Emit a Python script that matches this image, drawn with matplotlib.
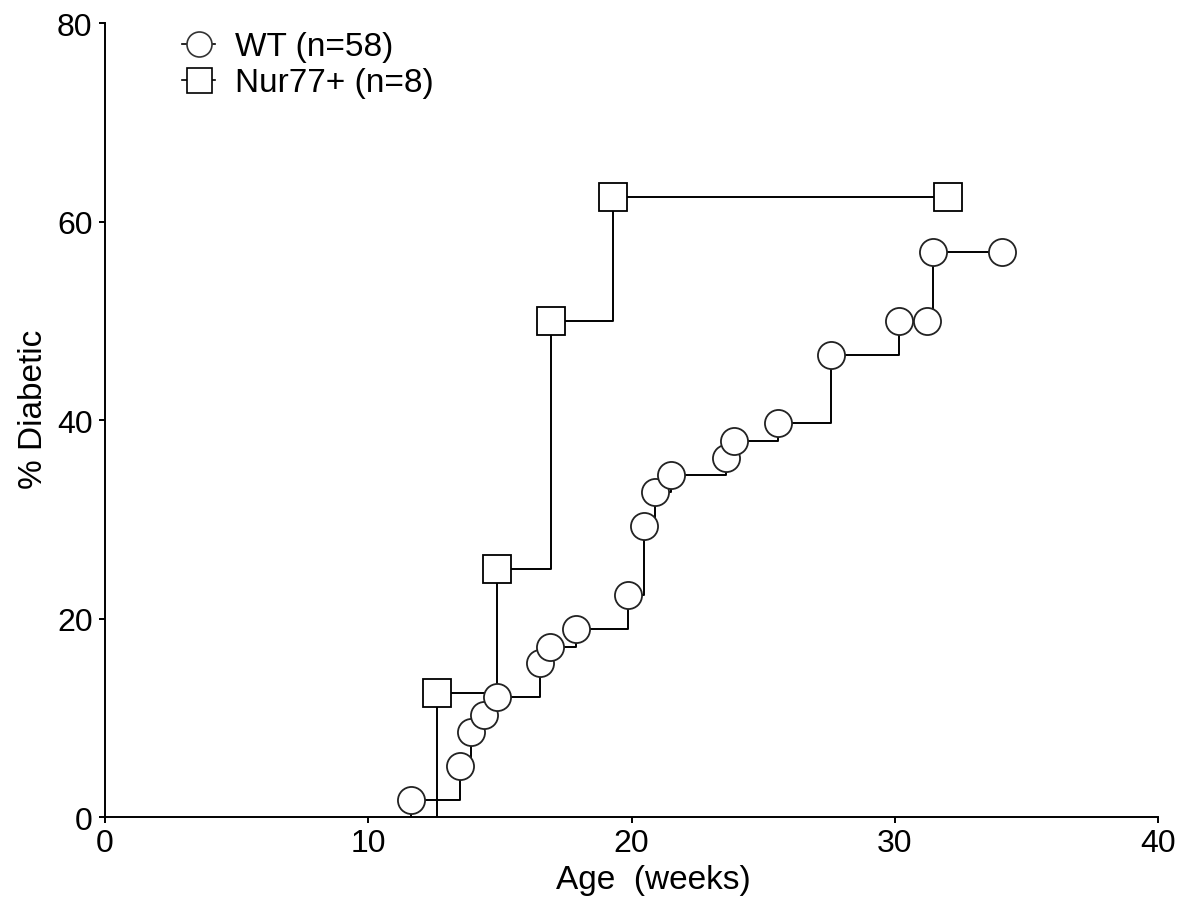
import matplotlib
matplotlib.use("Agg")
import matplotlib.pyplot as plt

# Data
wt_weeks = [11.62, 13.49, 13.90, 14.40, 14.89, 16.52, 16.90, 17.89, 19.87, 20.47,
            20.89, 21.50, 23.59, 23.89, 25.57, 27.58, 30.16, 31.23, 31.45, 34.07]
wt_pct = [1.7, 5.2, 8.6, 10.3, 12.1, 15.5, 17.2, 19.0, 22.4, 29.3,
          32.8, 34.5, 36.2, 37.9, 39.7, 46.6, 50.0, 50.0, 57.0, 57.0]
nur_weeks = [12.6, 14.89, 16.94, 19.30, 32.02]
nur_pct = [12.5, 25.0, 50.0, 62.5, 62.5]

wt_label = "WT (n=58)"
nur_label = "Nur77+ (n=8)"
x_ticks = [0, 10, 20, 30, 40]
y_ticks = [0, 20, 40, 60, 80]

plt.rcParams['font.family'] = ['Liberation Sans', 'DejaVu Sans']

fig = plt.figure(figsize=(11.92, 9.03), dpi=100)
ax = fig.add_axes([0.0881, 0.0938, 0.9715 - 0.0881, 0.9731 - 0.0938])

lw = 1.4
# step lines (start from 0 at first event)
ax.step([wt_weeks[0]] + wt_weeks, [0] + wt_pct, where='post', color='black', lw=lw, zorder=2)
ax.step([nur_weeks[0]] + nur_weeks, [0] + nur_pct, where='post', color='black', lw=lw, zorder=2)

ax.plot(wt_weeks, wt_pct, linestyle='none', marker='o', markersize=19.5,
        markerfacecolor='white', markeredgecolor='#222222', markeredgewidth=1.3, zorder=3)
ax.plot(nur_weeks, nur_pct, linestyle='none', marker='s', markersize=19.5,
        markerfacecolor='white', markeredgecolor='black', markeredgewidth=1.3, zorder=3)

# legend handles
h1, = ax.plot([], [], color='black', lw=1.2, marker='o', markersize=18,
              markerfacecolor='white', markeredgecolor='#333333', markeredgewidth=1.2)
h2, = ax.plot([], [], color='black', lw=1.2, marker='s', markersize=18,
              markerfacecolor='white', markeredgecolor='black', markeredgewidth=1.2)
leg = ax.legend([h1, h2], [wt_label, nur_label], loc='upper left',
                bbox_to_anchor=(0.0731, 0.99), frameon=False, fontsize=24,
                handlelength=1.0, handletextpad=0.6, labelspacing=0.15,
                borderaxespad=0, borderpad=0)

ax.set_xlim(0, 40)
ax.set_ylim(0, 80)
ax.set_xticks(x_ticks)
ax.set_yticks(y_ticks)
ax.tick_params(direction='out', length=4, width=1.4, labelsize=23)
ax.tick_params(axis='x', pad=3.5)
ax.tick_params(axis='y', pad=5)
for s in ['top', 'right']:
    ax.spines[s].set_visible(False)
for s in ['left', 'bottom']:
    ax.spines[s].set_linewidth(1.4)

ax.set_xlabel("Age  (weeks)", fontsize=24)
ax.set_ylabel("% Diabetic", fontsize=24)
ax.xaxis.set_label_coords(0.521, -0.059)
ax.yaxis.set_label_coords(-0.053, 0.515)

fig.savefig("out.png", dpi=100)
